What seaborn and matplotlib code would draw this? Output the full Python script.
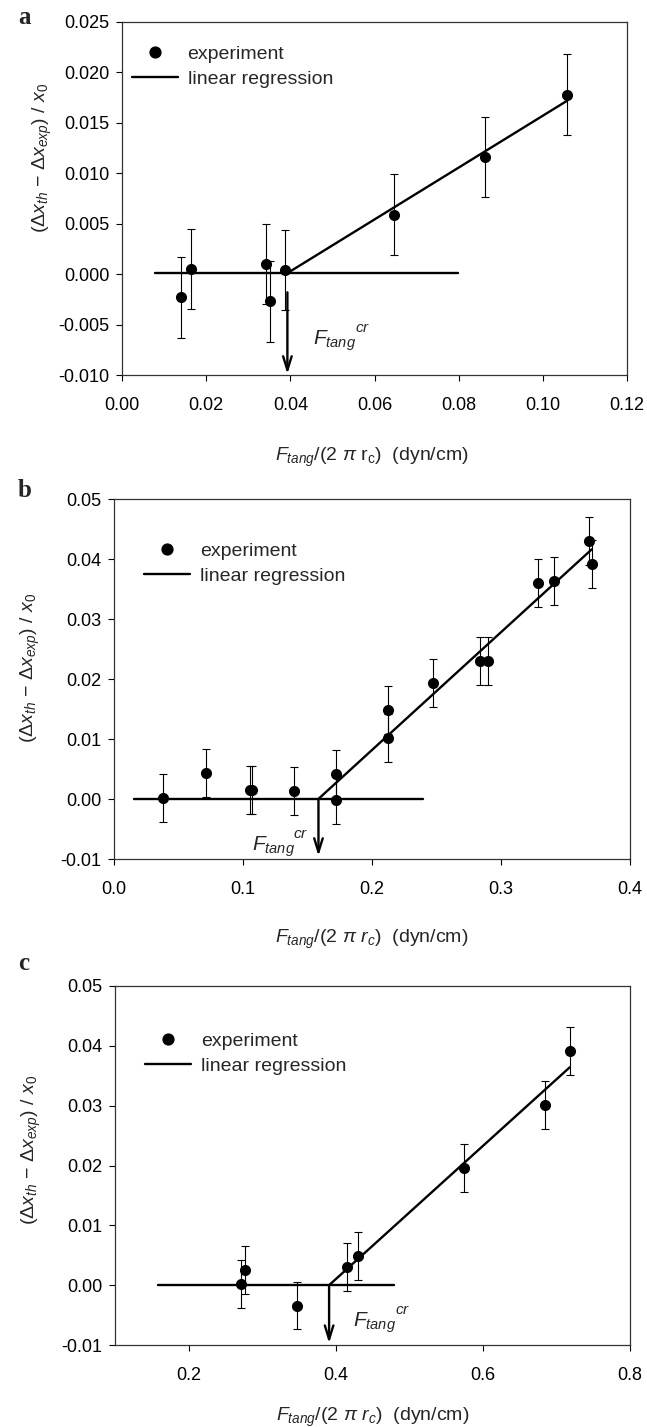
import numpy as np
import matplotlib
matplotlib.use('Agg')
import matplotlib.pyplot as plt
import seaborn as sns
import pandas as pd
from matplotlib.lines import Line2D
from matplotlib.ticker import FormatStrFormatter, MultipleLocator

# ---------------- data ----------------
# panel a
a_x = [0.0140, 0.0165, 0.0343, 0.0352, 0.0387, 0.0647, 0.0862, 0.1058]
a_y = [-0.0023, 0.0005, 0.0010, -0.0027, 0.0004, 0.0059, 0.0116, 0.0178]
a_err = [0.004, 0.004, 0.004, 0.004, 0.004, 0.004, 0.004, 0.004]
a_flat_x = [0.0078, 0.0799]
a_flat_y = [0.0001, 0.0001]
a_fit_x = [0.0393, 0.1058]
a_fit_y = [0.0001, 0.0172]
a_crit = 0.0393

# panel b
b_x = [0.0376, 0.0717, 0.1051, 0.1072, 0.1397, 0.1720, 0.1720, 0.2127,
       0.2127, 0.2474, 0.2836, 0.2897, 0.3288, 0.3409, 0.3682, 0.3703]
b_y = [0.0001, 0.0044, 0.0015, 0.0015, 0.0014, 0.0042, -0.0001, 0.0148,
       0.0101, 0.0193, 0.0230, 0.0230, 0.0360, 0.0363, 0.0430, 0.0392]
b_err = [0.004] * 16
b_flat_x = [0.0158, 0.2395]
b_flat_y = [0.0, 0.0]
b_fit_x = [0.1584, 0.3703]
b_fit_y = [0.0, 0.0416]
b_crit = 0.1585

# panel c
c_x = [0.2709, 0.2766, 0.3468, 0.4156, 0.4308, 0.5743, 0.6850, 0.7190]
c_y = [0.0002, 0.0026, -0.0034, 0.0030, 0.0049, 0.0196, 0.0301, 0.0391]
c_err = [0.004] * 8
c_flat_x = [0.158, 0.4797]
c_flat_y = [0.0, 0.0]
c_fit_x = [0.391, 0.718]
c_fit_y = [0.0, 0.0364]
c_crit = 0.391

legend_labels = ['experiment', 'linear regression']
panel_letters = ['a', 'b', 'c']

# ---------------- style ----------------
sns.set_style('ticks')
plt.rcParams['font.family'] = ['Liberation Sans', 'DejaVu Sans']
plt.rcParams['mathtext.fontset'] = 'custom'
plt.rcParams['mathtext.rm'] = 'Liberation Sans'
plt.rcParams['mathtext.it'] = 'Liberation Sans:italic'
plt.rcParams['mathtext.bf'] = 'Liberation Sans:bold'
plt.rcParams['axes.unicode_minus'] = False

W, H = 647, 1427
fig = plt.figure(figsize=(W / 100, H / 100), dpi=100)


def box(left, right, top, bottom):
    return [left / W, 1 - bottom / H, (right - left) / W, (bottom - top) / H]


ylabel = r'$(\Delta x_{th}\ \mathrm{-}\ \Delta x_{exp})\ /\ x_0$'
xlabel_a = r'$F_{tang}/(2\ \pi\ \mathrm{r_c})\ \ (\mathrm{dyn/cm})$'
xlabel_bc = r'$F_{tang}/(2\ \pi\ r_c)\ \ (\mathrm{dyn/cm})$'

panels = [
    dict(rect=box(122, 627, 22, 375), x=a_x, y=a_y, err=a_err,
         fx=a_flat_x, fy=a_flat_y, sx=a_fit_x, sy=a_fit_y, crit=a_crit,
         arrow=(-0.0018, -0.0099), xlim=(0, 0.12), ylim=(-0.010, 0.025),
         xstep=0.02, ystep=0.005, xfmt='%.2f', yfmt='%.3f',
         lab=(0.0455, -0.0070), leg=(0.02, 0.934), xl=xlabel_a,
         ylc=(-0.135, 0.616), xlc=(0.495, -0.20), letter=(18, 18)),
    dict(rect=box(114, 630, 499, 859), x=b_x, y=b_y, err=b_err,
         fx=b_flat_x, fy=b_flat_y, sx=b_fit_x, sy=b_fit_y, crit=b_crit,
         arrow=(0.0, -0.0095), xlim=(0, 0.4), ylim=(-0.01, 0.05),
         xstep=0.1, ystep=0.01, xfmt='%.1f', yfmt='%.2f',
         lab=(0.1068, -0.0086), leg=(0.059, 0.88), xl=xlabel_bc,
         ylc=(-0.14, 0.53), xlc=(0.5, -0.19), letter=(18, 491)),
    dict(rect=box(115, 630, 986, 1345), x=c_x, y=c_y, err=c_err,
         fx=c_flat_x, fy=c_flat_y, sx=c_fit_x, sy=c_fit_y, crit=c_crit,
         arrow=(0.0, -0.0097), xlim=(0.1, 0.8), ylim=(-0.01, 0.05),
         xstep=0.2, ystep=0.01, xfmt='%.1f', yfmt='%.2f',
         lab=(0.4235, -0.0069), leg=(0.059, 0.872), xl=xlabel_bc,
         ylc=(-0.14, 0.543), xlc=(0.5, -0.168), letter=(18, 964)),
]

for p, letter in zip(panels, panel_letters):
    ax = fig.add_axes(p['rect'])
    df = pd.DataFrame({'x': p['x'], 'y': p['y'], 'err': p['err']})
    ax.errorbar(df['x'], df['y'], yerr=df['err'], fmt='none', ecolor='black',
                elinewidth=0.8, capsize=3.2, capthick=0.8, zorder=3)
    sns.scatterplot(data=df, x='x', y='y', ax=ax, color='black', s=64,
                    edgecolor='black', linewidth=0, zorder=4, legend=False)
    sns.lineplot(x=p['fx'], y=p['fy'], ax=ax, color='black', lw=1.7,
                 estimator=None, sort=False, legend=False)
    sns.lineplot(x=p['sx'], y=p['sy'], ax=ax, color='black', lw=1.7,
                 estimator=None, sort=False, legend=False)
    ax.annotate('', xy=(p['crit'], p['arrow'][1]), xytext=(p['crit'], p['arrow'][0]),
                arrowprops=dict(arrowstyle='->,head_length=0.9,head_width=0.28',
                                lw=1.7, color='black', shrinkA=0, shrinkB=0,
                                mutation_scale=11), zorder=5)
    ax.text(p['lab'][0], p['lab'][1], r'$F_{tang}$', fontsize=15,
            ha='left', va='baseline')
    ax.annotate(r'$cr$', xy=p['lab'], xytext=(30, 9), textcoords='offset points',
                fontsize=11, ha='left', va='baseline')

    ax.set_xlim(*p['xlim'])
    ax.set_ylim(*p['ylim'])
    ax.xaxis.set_major_locator(MultipleLocator(p['xstep']))
    ax.yaxis.set_major_locator(MultipleLocator(p['ystep']))
    ax.xaxis.set_major_formatter(FormatStrFormatter(p['xfmt']))
    ax.yaxis.set_major_formatter(FormatStrFormatter(p['yfmt']))
    ax.tick_params(axis='both', direction='out', length=4, width=0.8,
                   labelsize=13, colors='black')
    ax.tick_params(axis='x', pad=12)
    ax.tick_params(axis='y', pad=5)
    for s in ax.spines.values():
        s.set_linewidth(0.9)
        s.set_color('#333333')
        s.set_visible(True)

    ax.set_xlabel(p['xl'], fontsize=14)
    ax.set_ylabel(ylabel, fontsize=14)
    ax.yaxis.set_label_coords(*p['ylc'])
    ax.xaxis.set_label_coords(*p['xlc'])

    handles = [Line2D([], [], marker='o', color='black', ls='none', markersize=7.8),
               Line2D([], [], color='black', lw=1.7)]
    ax.legend(handles, legend_labels, loc='upper left', bbox_to_anchor=p['leg'],
              frameon=False, fontsize=14, handlelength=2.35, handletextpad=0.5,
              labelspacing=0.39, borderpad=0, borderaxespad=0)

    fig.text(p['letter'][0] / W, 1 - p['letter'][1] / H, letter,
             fontsize=18, fontweight='bold', family='Liberation Serif',
             ha='left', va='center')

fig.savefig('out.png', dpi=100)
